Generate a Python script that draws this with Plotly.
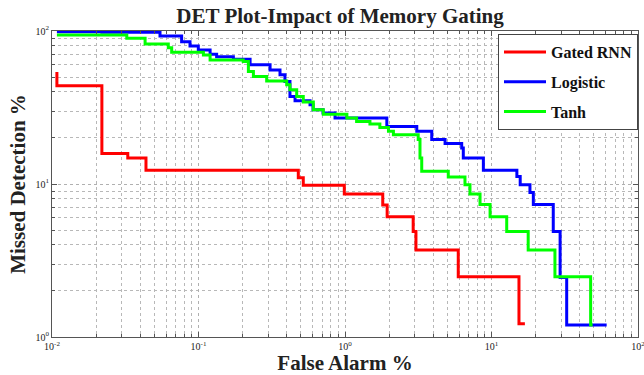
import plotly.graph_objects as go

# Gated RNN
red_x = [0.0108, 0.0108, 0.0219, 0.0329, 0.0438, 0.480, 0.519, 0.989, 1.81, 1.94, 2.92, 3.05, 5.93, 15.4, 16.9]
red_y = [54, 43.9, 15.8, 14.8, 12.3, 11.0, 9.8, 8.6, 7.3, 6.1, 4.9, 3.7, 2.48, 1.22, 1.22]

# Logistic
blue_x = [0.0108, 0.0219, 0.0546, 0.0767, 0.0875, 0.0997, 0.120, 0.133, 0.173, 0.225, 0.308, 0.360,
          0.389, 0.421, 0.456, 0.577, 0.605, 0.708, 0.855, 1.93, 3.09, 3.91, 4.82, 6.26, 6.42, 8.80,
          14.9, 15.7, 18.3, 19.3, 26.4, 29.4, 32.6, 61.1]
blue_y = [99, 98, 92.8, 85, 79.8, 75.2, 70.4, 68, 65.4, 60.1, 55.7, 51.7,
          46.7, 37.3, 35, 33, 30.6, 29.1, 27, 23.8, 22.1, 19.5, 18.4, 17.2, 14.8, 12.3,
          11.2, 9.9, 8.8, 7.35, 4.9, 2.45, 1.2, 1.2]

# Tanh
green_x = [0.0108, 0.0324, 0.0432, 0.0622, 0.0656, 0.108, 0.120, 0.202, 0.219, 0.237, 0.292, 0.400,
           0.421, 0.468, 0.519, 0.608, 0.711, 1.03, 1.20, 1.48, 1.73, 1.98, 2.14, 3.16, 3.25, 3.34,
           5.07, 6.59, 7.13, 8.35, 9.78, 12.7, 17.8, 27.1, 47.5, 49.0]
green_y = [94.2, 89.6, 82.2, 77.8, 72.6, 69.8, 64.7, 63.1, 54.3, 50.4, 47.2, 44.5,
           41.3, 37.3, 34.3, 30.6, 28.6, 27, 25.6, 24.7, 23.4, 22.1, 21.0, 19.5, 14.8, 12.1,
           11.1, 9.9, 8.6, 7.35, 6.1, 4.9, 3.7, 2.48, 1.2, 1.2]

x_decades = [-2, -1, 0, 1, 2]
y_decades = [0, 1, 2]
x_ticktext = ["10<sup>-2</sup>", "10<sup>-1</sup>", "10<sup>0</sup>", "10<sup>1</sup>", "10<sup>2</sup>"]
y_ticktext = ["10<sup>0</sup>", "10<sup>1</sup>", "10<sup>2</sup>"]


def minor_vals(decades):
    return [m * 10 ** d for d in decades[:-1] for m in range(2, 10)]


serif = "Liberation Serif, Times New Roman, serif"

fig = go.Figure()
for name, xs, ys, col in [("Gated RNN", red_x, red_y, "#ff0000"),
                          ("Logistic", blue_x, blue_y, "#0000ff"),
                          ("Tanh", green_x, green_y, "#00ff00")]:
    fig.add_trace(go.Scatter(x=xs, y=ys, mode="lines", name=f"<b>{name}</b>", legendgroup=name,
                             line=dict(color=col, width=3, shape="hv")))

axis_common = dict(type="log", showline=True, mirror="ticks", linecolor="#555555", linewidth=1,
                   showgrid=True, gridcolor="#b0b0b0", griddash="dot", gridwidth=1,
                   ticks="inside", ticklen=5, tickcolor="#555555", zeroline=False,
                   ticklabeloverflow="allow", automargin=False,
                   tickfont=dict(family=serif, size=10, color="#222222"))


def minor_cfg(decades):
    return dict(tickvals=minor_vals(decades), ticks="inside", ticklen=3, tickcolor="#555555",
                showgrid=True, gridcolor="#b8b8b8", griddash="dot", gridwidth=1)


fig.update_xaxes(range=[-2, 2], tickvals=[10 ** d for d in x_decades], ticktext=x_ticktext,
                 minor=minor_cfg(x_decades),
                 title=dict(text="<b>False Alarm %</b>", font=dict(family=serif, size=21, color="#222222"),
                            standoff=2), **axis_common)
fig.update_yaxes(range=[0, 2], tickvals=[10 ** d for d in y_decades], ticktext=y_ticktext,
                 minor=minor_cfg(y_decades),
                 title=dict(text="<b>Missed Detection %</b>", font=dict(family=serif, size=21, color="#222222"),
                            standoff=4), **axis_common)

fig.update_layout(
    width=644, height=375,
    margin=dict(l=52, r=6, t=31, b=38, autoexpand=False),
    paper_bgcolor="white", plot_bgcolor="white",
    title=dict(text="<b>DET Plot-Impact of Memory Gating</b>", x=0.528, xanchor="center",
               y=0.958, yanchor="middle", font=dict(family=serif, size=21, color="#222222")),
    legend=dict(x=1.0, y=0.99, xanchor="right", yanchor="top", bgcolor="white",
                bordercolor="#444444", borderwidth=1, traceorder="grouped", tracegroupgap=6,
                itemwidth=42,
                font=dict(family=serif, size=16, color="#111111")),
    showlegend=True,
)

fig.write_html("out.html")
